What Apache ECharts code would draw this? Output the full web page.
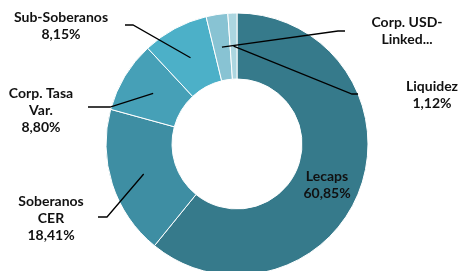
<!DOCTYPE html>
<html>
<head>
<meta charset="utf-8">
<script src="https://cdn.jsdelivr.net/npm/echarts@6/dist/echarts.min.js"></script>
<style>
  html, body { margin: 0; padding: 0; background: #fff; }
  #chart { width: 463px; height: 271px; }
</style>
</head>
<body>
<div id="chart"></div>
<script>
// data
var categories = ['Lecaps', 'Soberanos CER', 'Corp. Tasa Var.', 'Sub-Soberanos', 'Corp. USD-Linked', 'Liquidez'];
var values = [60.85, 18.41, 8.80, 8.15, 2.67, 1.12];
var labelNames = ['Lecaps', 'Soberanos\nCER', 'Corp. Tasa\nVar.', 'Sub-Soberanos', 'Corp. USD-\nLinked...', 'Liquidez'];
var showValue = [true, true, true, true, false, true];
var colors = ['#367a8b', '#3e8ea3', '#46a0b7', '#4cb0c8', '#88c3d3', '#acd6e0'];

// label placement (annotation layout, not data)
var center = [237, 144];
var labelAt = [[327, 185], [51, 218], [41, 110], [61, 26], [407, 31], [432, 95]];
var lineBends = [null, [[107, 217], [98, 217]], [[110, 107], [88, 107]], [[133, 25], [125, 25]], [[338, 31], [345, 31]], [[352, 94], [358, 94]]];

var myChart = echarts.init(document.getElementById('chart'));

var common = {
    type: 'pie',
    center: center,
    radius: [65, 131],
    startAngle: 90,
    clockwise: true,
    avoidLabelOverlap: false,
    emphasis: { disabled: true },
    silent: true
};

var option = {
    animation: false,
    series: [
        // the ring itself
        Object.assign({}, common, {
            z: 2,
            itemStyle: { borderColor: '#fff', borderWidth: 1 },
            label: { show: false },
            labelLine: { show: false },
            data: categories.map(function (c, i) {
                return { name: c, value: values[i], itemStyle: { color: colors[i] } };
            })
        }),
        // transparent copy on top, carries labels and leader lines over the ring
        Object.assign({}, common, {
            z: 5,
            itemStyle: { color: 'rgba(0,0,0,0)', borderWidth: 0 },
            label: {
                position: 'outside',
                fontFamily: 'Lato',
                fontWeight: 'bold',
                fontSize: 14,
                lineHeight: 17,
                color: '#111',
                align: 'center',
                formatter: function (p) {
                    var i = p.dataIndex;
                    var txt = labelNames[i];
                    if (showValue[i]) {
                        txt += '\n' + values[i].toFixed(2).replace('.', ',') + '%';
                    }
                    return txt;
                }
            },
            labelLine: {
                show: true,
                lineStyle: { color: '#000', width: 1.3 }
            },
            labelLayout: function (params) {
                var i = params.dataIndex;
                var out = {
                    x: labelAt[i][0],
                    y: labelAt[i][1],
                    align: 'center',
                    verticalAlign: 'middle'
                };
                if (lineBends[i] && params.labelLinePoints) {
                    // start the leader line mid-ring, on the slice's own angle
                    var p0 = params.labelLinePoints[0];
                    var ang = Math.atan2(p0[1] - center[1], p0[0] - center[0]);
                    var r = 98;
                    out.labelLinePoints = [
                        [center[0] + r * Math.cos(ang), center[1] + r * Math.sin(ang)],
                        lineBends[i][0],
                        lineBends[i][1]
                    ];
                }
                return out;
            },
            data: categories.map(function (c, i) {
                var item = { name: c, value: values[i] };
                if (i === 0) {
                    item.label = { position: 'inside' };
                    item.labelLine = { show: false };
                }
                return item;
            })
        })
    ]
};

myChart.setOption(option);
</script>
</body>
</html>
